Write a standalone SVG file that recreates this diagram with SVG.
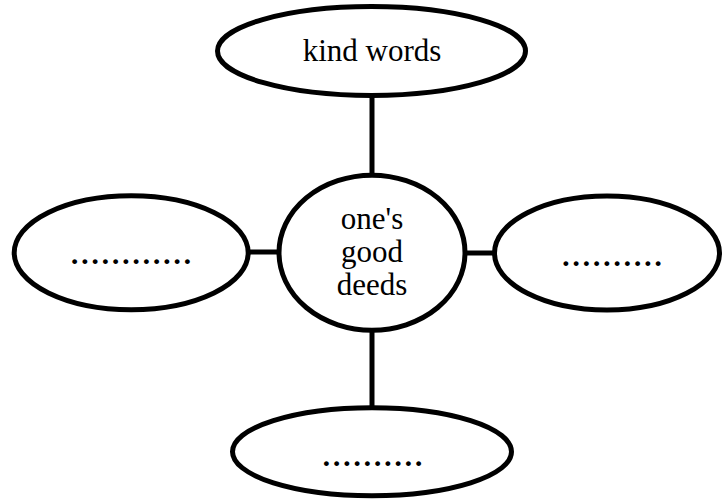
<svg xmlns="http://www.w3.org/2000/svg" width="723" height="501" viewBox="0 0 723 501">
<style>
.shape{fill:#fff;stroke:#000;stroke-width:5}
.conn{stroke:#000;stroke-width:5;fill:none}
.lbl{font-family:"Liberation Serif","Times New Roman",serif;font-size:31px;fill:#000;text-anchor:middle}
.dots{font-family:"Liberation Serif","Times New Roman",serif;font-size:41px;fill:#000;text-anchor:middle}
</style>
<rect width="723" height="501" fill="#fff"/>
<g id="connectors">
<line class="conn" x1="372" y1="96" x2="372" y2="175"/>
<line class="conn" x1="372" y1="330" x2="372" y2="407"/>
<line class="conn" x1="248" y1="252" x2="280" y2="252"/>
<line class="conn" x1="464" y1="253" x2="495" y2="253"/>
</g>
<g id="top">
<ellipse class="shape" cx="371.5" cy="51" rx="154" ry="44.5"/>
<text class="lbl" x="372" y="61">kind words</text>
</g>
<g id="center">
<ellipse class="shape" cx="372" cy="252.7" rx="93" ry="77.5"/>
<text class="lbl" x="372" y="229">one's</text>
<text class="lbl" x="372" y="262">good</text>
<text class="lbl" x="372" y="295">deeds</text>
</g>
<g id="left">
<ellipse class="shape" cx="131.2" cy="252.7" rx="117" ry="57"/>
<text class="dots" x="131" y="264">............</text>
</g>
<g id="right">
<ellipse class="shape" cx="607" cy="253" rx="112.5" ry="57"/>
<text class="dots" x="612" y="266">..........</text>
</g>
<g id="bottom">
<ellipse class="shape" cx="372" cy="451.7" rx="139.5" ry="44"/>
<text class="dots" x="372.5" y="466">..........</text>
</g>
</svg>
